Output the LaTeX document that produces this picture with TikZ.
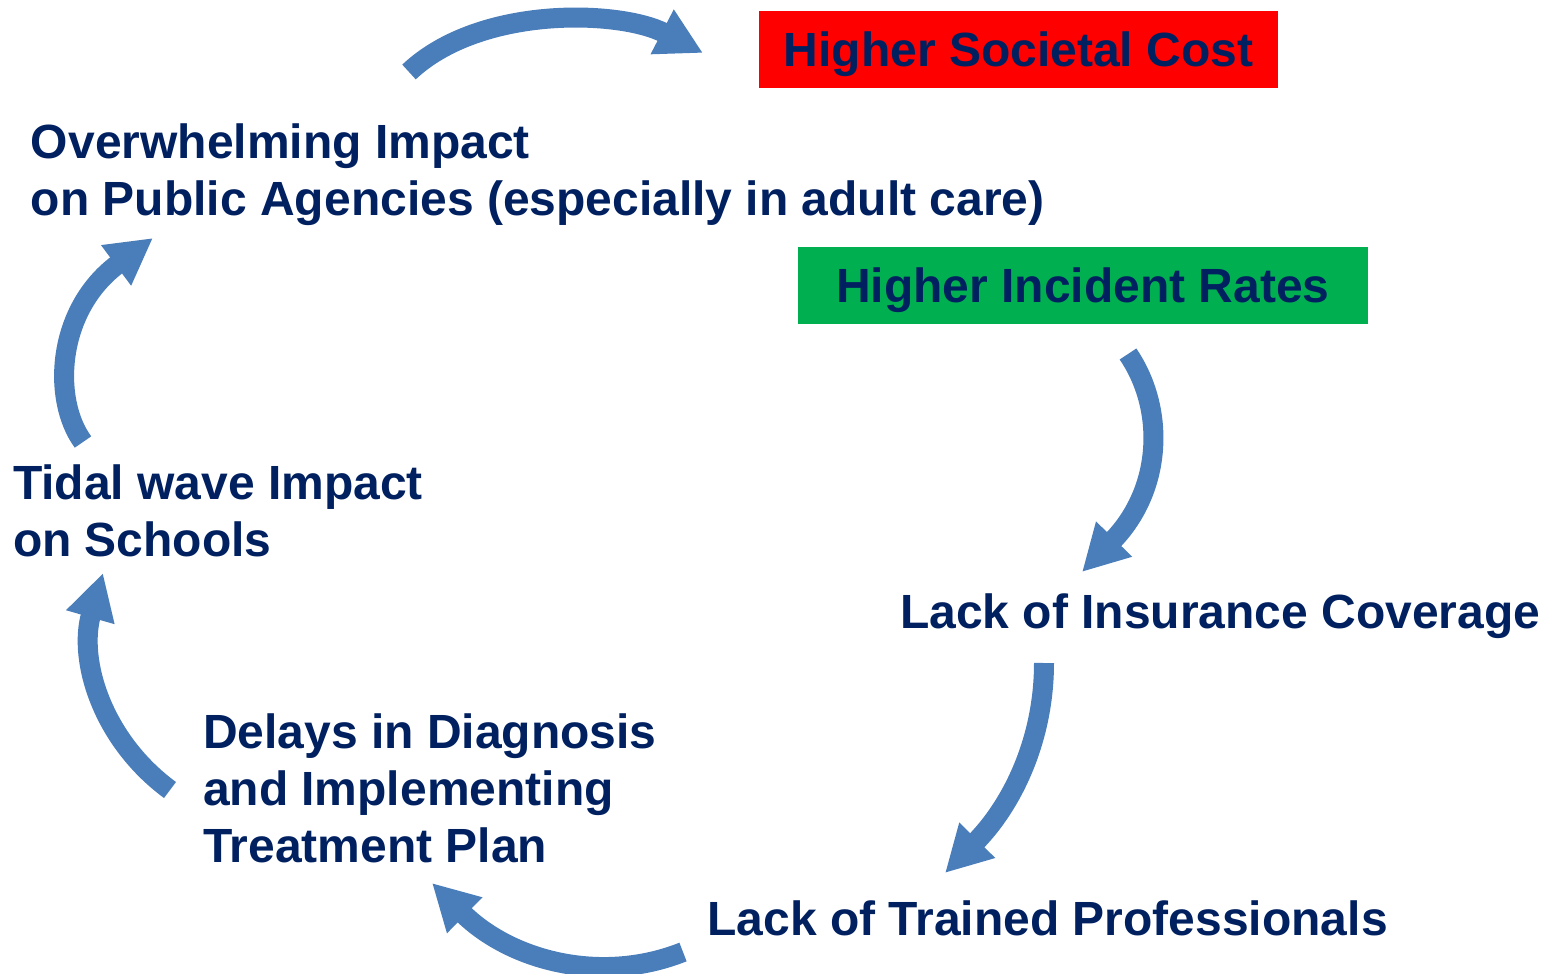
\documentclass[tikz,border=0pt]{standalone}
\usepackage{fontspec}
\setmainfont{Liberation Sans}
\usetikzlibrary{arrows.meta}
\definecolor{navy}{HTML}{002060}
\definecolor{arrowblue}{HTML}{4A7EBB}
\definecolor{boxgreen}{HTML}{00B050}
\definecolor{boxred}{HTML}{FF0000}
\tikzset{
  txt/.style={inner sep=0pt, outer sep=0pt, text=navy, anchor=base west,
    font={\fontsize{24pt}{28.5pt}\selectfont\bfseries}},
  colbox/.style={inner sep=0pt, outer sep=0pt, text=navy,
    minimum width=#1, minimum height=38.5pt, text height=17.2pt, text depth=0pt,
    font={\fontsize{24pt}{28.5pt}\selectfont\bfseries}},
  flow/.style={draw=arrowblue, line width=10pt,
    -{Triangle[width=23.5pt,length=23pt]}}
}
\begin{document}
\begin{tikzpicture}[x=0.5pt,y=-0.5pt]
\useasboundingbox (0,0) rectangle (1549,974);

% boxes
\node[colbox=259.5pt, fill=boxred] (soc) at (1018.5,49.5) {Higher Societal Cost};
\node[colbox=285pt, fill=boxgreen] (inc) at (1083,285.5) {Higher Incident Rates};

% texts
\node[txt] (ovr) at (31,159) {\begin{tabular}[t]{@{}l@{}}Overwhelming Impact\\on Public Agencies (especially in adult care)\end{tabular}};
\node[txt] (tid) at (13,499) {\begin{tabular}[t]{@{}l@{}}Tidal wave Impact\\on Schools\end{tabular}};
\node[txt] (ins) at (900,628) {Lack of Insurance Coverage};
\node[txt] (del) at (203,748) {\begin{tabular}[t]{@{}l@{}}Delays in Diagnosis\\and Implementing\\Treatment Plan\end{tabular}};
\node[txt] (tra) at (707.5,935) {Lack of Trained Professionals};

% arrow end points
\coordinate (a1s) at (409,72);   \coordinate (a1e) at (703,53);
\coordinate (a2s) at (1128,354); \coordinate (a2e) at (1082,572);
\coordinate (a3s) at (1044,663); \coordinate (a3e) at (945,873);
\coordinate (a4s) at (683,952);  \coordinate (a4e) at (432,883);
\coordinate (a5s) at (170,790);  \coordinate (a5e) at (103,573);
\coordinate (a6s) at (83,442);   \coordinate (a6e) at (153,238);

% arrows
\draw[flow] (a1s) .. controls (480,5) and (620,10) .. (a1e);
\draw[flow] (a2s) .. controls (1166,410) and (1162,490) .. (a2e);
\draw[flow] (a3s) .. controls (1044,740) and (1012,805) .. (a3e);
\draw[flow] (a4s) .. controls (600,985) and (510,960) .. (a4e);
\draw[flow] (a5s) .. controls (102,740) and (78,660) .. (a5e);
\draw[flow] (a6s) .. controls (52,400) and (56,310) .. (a6e);
\end{tikzpicture}
\end{document}
